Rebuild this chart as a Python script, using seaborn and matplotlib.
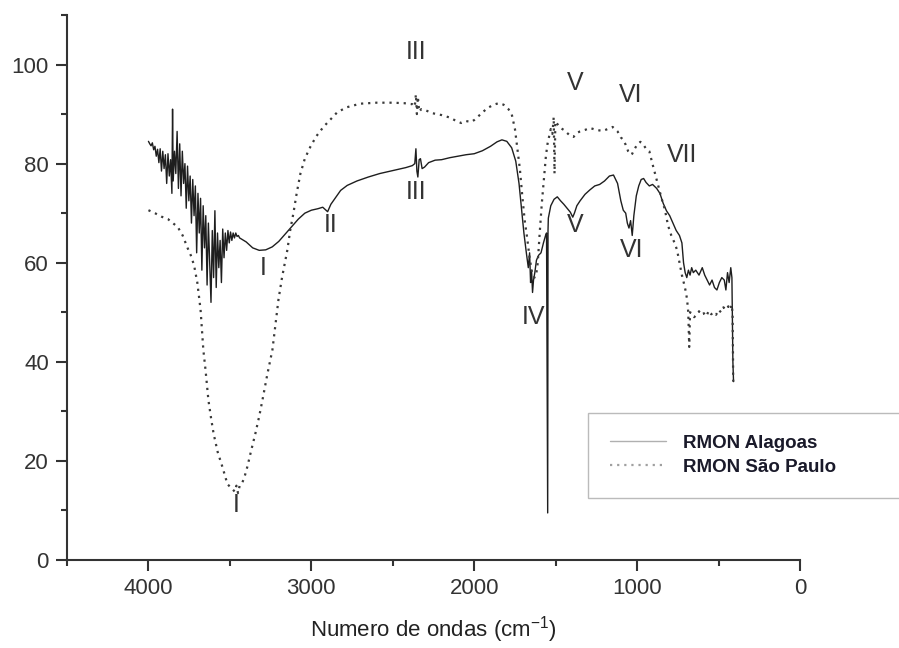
import numpy as np
import pandas as pd
import matplotlib
matplotlib.use("Agg")
import matplotlib.pyplot as plt
import seaborn as sns
from matplotlib.ticker import MultipleLocator

# ---------------- data ----------------
wn_alagoas = [
    4000, 3992, 3984, 3976, 3968, 3960, 3952, 3944, 3936, 3928, 3920, 3912, 3904, 3896,
    3888, 3880, 3872, 3864, 3856, 3852, 3848, 3840, 3832, 3824, 3816, 3808, 3800, 3792,
    3784, 3776, 3768, 3760, 3752, 3744, 3736, 3728, 3720, 3712, 3704, 3696, 3688, 3680,
    3672, 3664, 3656, 3648, 3640, 3632, 3624, 3616, 3608, 3600, 3592, 3584, 3576, 3568,
    3560, 3552, 3544, 3536, 3528, 3520, 3512, 3504, 3496, 3488, 3480, 3472, 3464, 3456,
    3448, 3440,
    3400, 3360, 3320, 3280, 3240, 3200, 3160, 3120, 3080, 3040, 3000, 2960, 2930, 2900,
    2880, 2850, 2820, 2780, 2720, 2650, 2580, 2500, 2420, 2380, 2365, 2358, 2352, 2346,
    2338, 2330, 2320, 2305, 2280, 2240, 2200, 2150, 2100, 2050, 2000, 1950, 1900, 1860,
    1830, 1800, 1770, 1745, 1725, 1710, 1695, 1680, 1668, 1660, 1654, 1648, 1642, 1636,
    1628, 1618, 1605, 1590, 1575, 1562, 1556, 1549, 1547, 1545, 1530, 1510, 1490, 1470,
    1450, 1430, 1410, 1395, 1385, 1370, 1350, 1320, 1290, 1260, 1230, 1200, 1170, 1145,
    1120, 1100, 1085, 1070, 1060, 1050, 1040, 1030, 1020, 1005, 990, 975, 960, 945, 925,
    905, 880, 860, 840, 820, 800, 780, 760, 740, 725, 715, 705, 695, 685, 675, 665, 655,
    640, 620, 600, 585, 570, 555, 540, 525, 510, 495, 480, 465, 455, 445, 435, 425, 418,
    412, 408,
]
t_alagoas = [
    84.5, 84.0, 83.6, 84.2, 82.8, 83.5, 81.5, 82.9, 80.2, 83.0, 78.5, 82.5, 79.0, 81.8,
    76.0, 82.0, 77.5, 80.8, 74.0, 91.0, 76.5, 82.5, 78.0, 86.5, 75.0, 84.0, 73.5, 82.5,
    76.0, 80.0, 71.0, 79.5, 72.5, 77.5, 68.0, 76.8, 69.5, 75.5, 62.0, 74.0, 66.0, 73.0,
    58.5, 71.5, 63.0, 69.5, 55.5, 68.0, 60.0, 52.0, 66.5, 57.0, 70.5, 55.0, 66.0, 59.0,
    64.5, 56.0, 66.8, 61.0, 66.0, 62.5, 66.5, 64.0, 66.2, 64.5, 66.0, 65.0, 66.0, 65.3,
    65.5, 65.0,
    64.2, 63.0, 62.5, 62.6, 63.2, 64.3, 65.8, 67.3, 68.8, 70.0, 70.6, 70.9, 71.2, 70.3,
    71.8, 73.2, 74.6, 75.6, 76.5, 77.3, 78.0, 78.6, 79.2, 79.6, 80.0, 83.0, 78.5, 77.3,
    80.8, 81.0, 79.0, 79.3, 80.2, 80.7, 80.8, 81.2, 81.5, 81.8, 82.0, 82.6, 83.5, 84.4,
    84.8, 84.5, 83.2, 80.5, 76.0, 71.0, 66.0, 62.0, 59.0, 62.0, 56.0, 58.5, 54.0, 56.5,
    58.0, 60.5, 61.5, 62.0, 64.0, 65.5, 66.0, 9.5, 66.5, 69.0, 71.5, 72.8, 73.3, 72.5,
    71.8, 71.0, 70.2, 69.2, 70.0, 71.5, 72.5, 73.8, 74.7, 75.5, 75.8, 76.5, 77.5, 77.7,
    76.0, 72.5, 70.6, 70.0, 68.0, 67.0, 68.5, 65.5, 69.5, 73.5, 75.5, 76.8, 77.0, 76.2, 75.5,
    75.8, 75.0, 74.0, 72.0, 70.5, 69.5, 68.0, 66.5, 65.5, 64.0, 60.0, 58.0, 57.0, 58.5, 57.5, 59.0, 58.0,
    58.5, 57.5, 59.0, 57.5, 56.5, 55.5, 56.5, 55.0, 54.5, 56.0, 57.0, 56.5, 54.5, 58.0, 56.0, 59.0, 57.0,
    40.0, 36.0,
]

wn_saopaulo = [
    4000, 3960, 3920, 3880, 3850, 3820, 3790, 3760, 3740, 3720, 3700, 3680, 3663, 3650,
    3632, 3615, 3600, 3575, 3546, 3515, 3490, 3470, 3460, 3450, 3440, 3425, 3410, 3393,
    3370, 3343, 3320, 3300, 3270, 3239, 3220, 3202, 3180, 3147, 3130,
    3110, 3090, 3067, 3040, 3006, 2970, 2926, 2880, 2840, 2780, 2700, 2600, 2500, 2430,
    2380, 2365, 2358, 2352, 2346, 2338, 2325, 2300, 2260, 2200, 2150, 2110, 2080, 2050,
    2020, 2000, 1960, 1920, 1880, 1850, 1820, 1790, 1770, 1750, 1735, 1720, 1705, 1690,
    1675, 1660, 1645, 1630, 1620, 1610, 1598, 1585, 1572, 1560, 1550, 1540, 1530, 1520,
    1512, 1507, 1502, 1490, 1470, 1450, 1430, 1410, 1390, 1370, 1350, 1320, 1290, 1250,
    1210, 1180, 1150, 1120, 1100, 1085, 1070, 1055, 1040, 1030, 1015, 1000, 980, 965, 945,
    925, 910, 890, 870, 850, 830, 810, 790, 770, 755, 740, 725, 710, 700, 693, 686, 680,
    675, 665, 650, 635, 620, 605, 590, 575, 560, 545, 530, 515, 500, 485, 470, 455, 440,
    428, 420, 414, 410,
]
t_saopaulo = [
    70.6, 70.0, 69.3, 68.8, 68.0, 67.2, 65.5, 63.0, 61.5, 59.5, 56.0, 50.5, 42.4, 38.5,
    32.3, 28.5, 25.5, 21.8, 18.8, 15.3, 14.5, 13.8, 15.0, 13.5, 15.0, 15.5, 16.8, 18.8,
    22.0, 25.6, 29.0, 32.3, 37.5, 42.4, 47.5, 52.5, 57.0, 62.6, 66.5,
    70.0, 74.0, 78.0, 81.0, 83.4, 85.5, 87.4, 89.0, 90.4, 91.4, 92.1, 92.3, 92.3, 92.2,
    92.0, 91.5, 94.0, 90.0, 93.5, 90.5, 91.0, 90.8, 90.2, 89.8, 89.3, 88.6, 88.2, 88.6,
    88.4, 88.8, 90.0, 91.2, 91.9, 92.2, 91.9, 91.0, 90.0, 87.0, 83.0, 79.0, 73.5, 68.5,
    65.0, 61.0, 58.0, 57.0, 57.5, 60.0, 66.0, 72.0, 77.0, 81.5, 84.0, 85.5, 87.0, 86.0,
    89.4, 78.0, 88.5, 88.0, 87.2, 86.8, 86.2, 85.6, 85.4, 86.2, 86.5, 86.8, 87.2, 86.8,
    86.6, 87.0, 87.4, 86.5, 85.3, 84.8, 83.8, 82.5, 81.8, 82.0, 83.0, 83.8, 84.4, 84.0, 83.0,
    82.5, 80.5, 78.0, 75.5, 73.0, 70.8, 67.5, 65.5, 64.0, 62.6, 60.0, 57.5, 55.5, 54.0, 52.5, 50.0, 43.0,
    50.0, 49.8, 49.0, 49.5, 50.2, 49.5, 49.8, 49.2, 50.3, 49.6, 50.0, 49.5, 50.5, 50.0, 51.0, 50.5, 51.2,
    50.5, 51.5, 50.0, 36.0,
]

series_names = ["RMON Alagoas", "RMON São Paulo"]

band_labels = ["I", "I", "II", "III", "III", "IV", "V", "V", "VI", "VI", "VII"]
band_wn = [3460, 3294, 2883, 2356, 2356, 1638, 1380, 1380, 1037, 1031, 724]
band_y = [11, 59, 67.6, 102.5, 74.3, 49.0, 96.3, 67.6, 93.8, 62.6, 81.7]

xlabel = "Numero de ondas (cm$^{-1}$)"

# ---------------- style ----------------
sns.set_theme(style="ticks")
plt.rcParams["font.family"] = ["Liberation Sans", "DejaVu Sans"]
plt.rcParams["mathtext.default"] = "regular"

fig = plt.figure(figsize=(8.99, 6.48), dpi=100)
ax = fig.add_axes([67 / 899, 88 / 648, 733 / 899, 545 / 648])

df_al = pd.DataFrame({"wn": wn_alagoas, "T": t_alagoas})
df_sp = pd.DataFrame({"wn": wn_saopaulo, "T": t_saopaulo})

sns.lineplot(data=df_al, x="wn", y="T", sort=False, estimator=None, ax=ax,
             color="#1e1e1e", linewidth=1.0, label=series_names[0])
sns.lineplot(data=df_sp, x="wn", y="T", sort=False, estimator=None, ax=ax,
             color="#3a3a3a", linewidth=1.6, linestyle=(0, (1, 2.2)),
             label=series_names[1])

for lab, xw, yv in zip(band_labels, band_wn, band_y):
    ax.text(xw, yv, lab, ha="center", va="center", fontsize=18, color="#333333")

ax.set_xlim(4500, 0)
ax.set_ylim(0, 110)
ax.xaxis.set_major_locator(MultipleLocator(1000))
ax.xaxis.set_minor_locator(MultipleLocator(500))
ax.yaxis.set_major_locator(MultipleLocator(20))
ax.yaxis.set_minor_locator(MultipleLocator(10))
ax.set_yticks([0, 20, 40, 60, 80, 100])

for side in ["top", "right"]:
    ax.spines[side].set_visible(False)
for side in ["left", "bottom"]:
    ax.spines[side].set_linewidth(1.5)
    ax.spines[side].set_color("#333333")

ax.tick_params(axis="both", which="major", direction="out", length=8, width=1.5,
               color="#333333", labelsize=16, labelcolor="#333333", pad=5)
ax.tick_params(axis="both", which="minor", direction="out", length=4, width=1.5,
               color="#333333")

ax.set_xlabel(xlabel, fontsize=16, color="#222222", labelpad=11)
ax.set_ylabel("")

leg = ax.legend(loc="upper left", bbox_to_anchor=(0.711, 0.1, 1.2, 0.1697),
                mode="expand", borderaxespad=0, frameon=True, fancybox=False,
                handlelength=3.0, handletextpad=0.9,
                borderpad=1.15, labelspacing=0.38,
                prop={"weight": "bold", "size": 13.5})
leg.get_frame().set_edgecolor("#aaaaaa")
leg.get_frame().set_linewidth(1.0)
for t in leg.get_texts():
    t.set_color("#1a1a2a")
hl = leg.get_lines()
hl[0].set_color("#b0b0b0")
hl[0].set_linewidth(1.0)
hl[1].set_color("#a0a0a0")

fig.savefig("out.png", dpi=100)
